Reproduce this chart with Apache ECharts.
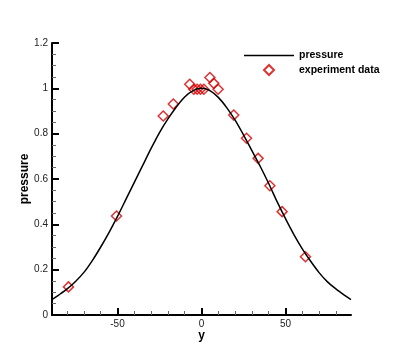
<!DOCTYPE html>
<html>
<head>
<meta charset="utf-8">
<script src="https://cdn.jsdelivr.net/npm/echarts@6/dist/echarts.min.js"></script>
<style>
  html, body { margin: 0; padding: 0; background: #fff; }
  #chart { width: 399px; height: 355px; }
</style>
</head>
<body>
<div id="chart"></div>
<script>
// 曲线 pressure
var curveX = [-89, -85, -80, -75, -70, -65, -60, -55, -50, -45, -40, -35, -30, -25, -20, -15, -10, -5, 0,
              5, 10, 15, 20, 25, 30, 35, 40, 45, 50, 55, 60, 65, 70, 75, 80, 85, 89];
var curveY = [0.068, 0.088, 0.115, 0.148, 0.188, 0.24, 0.3, 0.365, 0.435, 0.51, 0.585, 0.66, 0.735, 0.805, 0.865, 0.918, 0.962, 0.99, 1.0,
              0.99, 0.96, 0.915, 0.86, 0.795, 0.725, 0.655, 0.58, 0.5, 0.425, 0.355, 0.292, 0.237, 0.187, 0.146, 0.115, 0.088, 0.068];
// 实验数据点
var expX = [-79.2, -50.6, -22.8, -16.8, -7, -4.6, -2.6, -0.6, 1.4, 5, 7.3, 9.9, 19.2, 26.8, 33.7, 40.7, 48, 61.9];
var expY = [0.124, 0.437, 0.878, 0.931, 1.018, 0.996, 0.996, 0.996, 0.996, 1.048, 1.022, 0.996, 0.882, 0.78, 0.691, 0.57, 0.456, 0.257];
// 刻度
var xMajor = [-50, 0, 50];
var xMinor = [-80, -70, -60, -40, -30, -20, -10, 10, 20, 30, 40, 60, 70, 80];

function pairs(xs, ys) {
    return xs.map(function (x, i) { return [x, ys[i]]; });
}

var chart = echarts.init(document.getElementById('chart'));
var font = 'Liberation Sans, Arial, sans-serif';

var option = {
    animation: false,
    grid: { left: 52, right: 48, top: 43, bottom: 40 },
    legend: {
        orient: 'vertical',
        left: 244,
        top: 50,
        padding: 0,
        itemWidth: 50,
        itemHeight: 10,
        itemGap: 3,
        data: [
            { name: 'pressure', icon: 'path://M0,0 L50,0 L50,1.6 L0,1.6 Z' },
            { name: 'experiment data', icon: 'path://M5,0 L10,5 L5,10 L0,5 Z' }
        ],
        textStyle: { fontFamily: font, fontWeight: 'bold', fontSize: 10.5, color: '#000' }
    },
    xAxis: [{
        type: 'value',
        position: 'bottom',
        min: -89,
        max: 89,
        name: 'y',
        nameLocation: 'middle',
        nameGap: 15,
        nameMoveOverlap: false,
        nameTextStyle: { fontFamily: font, fontWeight: 'bold', fontSize: 12, color: '#000' },
        splitLine: { show: false },
        axisLine: { onZero: false, lineStyle: { color: '#000', width: 2 } },
        axisTick: { inside: true, length: 7, customValues: xMajor, lineStyle: { color: '#000', width: 2 } },
        axisLabel: { margin: 4, customValues: xMajor, fontFamily: font, fontSize: 10, color: '#222' }
    }, {
        type: 'value',
        position: 'bottom',
        min: -89,
        max: 89,
        splitLine: { show: false },
        axisLine: { show: false, onZero: false },
        axisTick: { inside: true, length: 4, customValues: xMinor, lineStyle: { color: '#666', width: 1 } },
        axisLabel: { show: false }
    }],
    yAxis: {
        type: 'value',
        min: 0,
        max: 1.2,
        interval: 0.2,
        name: 'pressure',
        nameLocation: 'middle',
        nameGap: 21,
        nameMoveOverlap: false,
        nameTextStyle: { fontFamily: font, fontWeight: 'bold', fontSize: 12, color: '#000' },
        splitLine: { show: false },
        axisLine: { show: true, onZero: false, lineStyle: { color: '#000', width: 2 } },
        axisTick: { inside: true, length: 7, lineStyle: { color: '#000', width: 2 } },
        minorTick: { show: true, splitNumber: 4, length: 4, lineStyle: { color: '#666', width: 1 } },
        axisLabel: { margin: 4, fontFamily: font, fontSize: 10, color: '#222' }
    },
    series: [{
        name: 'pressure',
        type: 'line',
        xAxisIndex: 0,
        data: pairs(curveX, curveY),
        smooth: 0.3,
        symbol: 'none',
        lineStyle: { color: '#000', width: 1.5 },
        itemStyle: { color: '#000' }
    }, {
        name: 'experiment data',
        type: 'scatter',
        xAxisIndex: 0,
        data: pairs(expX, expY),
        symbol: 'diamond',
        symbolSize: 10,
        itemStyle: { color: 'rgba(0,0,0,0)', borderColor: '#d40000', borderWidth: 1.5 }
    }]
};
chart.setOption(option);
</script>
</body>
</html>
